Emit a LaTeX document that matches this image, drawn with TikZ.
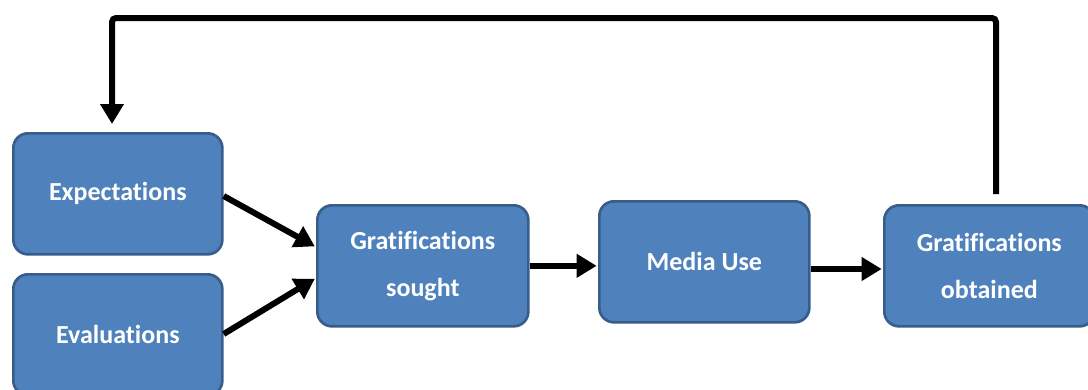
\documentclass[tikz,border=0pt]{standalone}
\usepackage{fontspec}
\setmainfont[Ligatures=NoCommon]{Carlito}
\usetikzlibrary{arrows.meta}
\definecolor{boxfill}{HTML}{4F81BD}
\definecolor{boxline}{HTML}{385D8A}
\begin{document}
\begin{tikzpicture}[x=0.75pt,y=-0.75pt,
  stagebox/.style={draw=boxline,line width=2pt,fill=boxfill,rounded corners=11pt,
    text=white,font=\bfseries\fontsize{19.5}{35}\selectfont,align=center,
    inner sep=0pt,anchor=north west},
  flow/.style={line width=4.5pt,-{Triangle[length=15pt,width=17pt]},shorten >=1pt}]
\useasboundingbox (0,0) rectangle (1088,389);
\begin{scope}
\clip (0,0) rectangle (1088,389);
% boxes: position = top-left corner, size in px units
\node[stagebox,minimum width=209*0.75pt,minimum height=121*0.75pt] (exp) at (12,132) {Expectations};
\node[stagebox,minimum width=209*0.75pt,minimum height=121*0.75pt] (eva) at (12,273) {Evaluations};
\node[stagebox,minimum width=211*0.75pt,minimum height=121*0.75pt] (sou) at (316,204) {Gratifications\\sought};
\node[stagebox,minimum width=210*0.75pt,minimum height=121*0.75pt] (med) at (598,200) {Media Use};
\node[stagebox,minimum width=210*0.75pt,minimum height=121*0.75pt] (obt) at (883,204) {Gratifications\\obtained};
\end{scope}
% connectors into "Gratifications sought"
\draw[flow] (exp.east |- 0,196) -- (sou.west |- 0,247);
\draw[flow] (eva.east |- 0,334) -- (sou.west |- 0,278);
\draw[flow] (sou.east) -- (med.west |- sou.east);
\draw[flow] (med.east |- 0,269) -- (obt.west |- 0,269);
% feedback loop
\coordinate (fbtop) at (996,18);
\coordinate (fbleft) at (112,18);
\draw[flow,rounded corners=3pt,shorten >=6pt] (obt.north -| fbtop) ++(0,-10) -- (fbtop) -- (fbleft) -- (fbleft |- exp.north);
\end{tikzpicture}
\end{document}
